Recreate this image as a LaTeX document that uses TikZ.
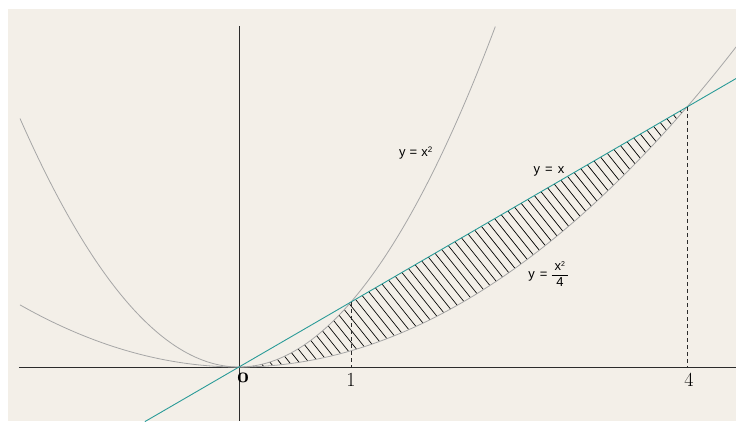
\documentclass[tikz,border=0pt]{standalone}
\usepackage{amsmath}
\usepackage{fontspec}
\setsansfont{Liberation Sans}
\usetikzlibrary{calc}
\definecolor{paper}{HTML}{F3EFE8}
\definecolor{tealline}{HTML}{2A9B98}
\definecolor{curvegray}{HTML}{A6A6A6}
\definecolor{axisgray}{HTML}{2B2B2B}

\begin{document}
\begin{tikzpicture}[
    x=112pt, y=65pt,
    axisline/.style={draw=axisgray, line width=0.9pt},
    curve/.style={draw=curvegray, line width=0.8pt, smooth},
    diag/.style={draw=tealline, line width=0.9pt},
    hatchline/.style={draw=black, line width=0.7pt},
    dropline/.style={draw=axisgray, line width=0.8pt, dash pattern=on 4pt off 3pt},
    lbl/.style={font=\sffamily\fontsize{13}{15}\selectfont, text=black, inner sep=1pt},
    tick/.style={font=\fontsize{20}{22}\selectfont, inner sep=0pt, anchor=north}
  ]
  % page and paper
  \useasboundingbox (-239pt,-54pt) rectangle (497pt,367pt);
  \fill[white] (-239pt,-54pt) rectangle (497pt,367pt);
  \fill[paper] (-231pt,-54pt) rectangle (497pt,358pt);

  % points used by the drops
  \coordinate (p1) at (1,1);
  \coordinate (p4) at (4,4);
  \coordinate (a1) at (1,0);
  \coordinate (a4) at (4,0);

  % hatched region
  \begin{scope}
    \clip plot[domain=0:1, samples=40] (\x,{\x*\x}) -- (p4)
      -- plot[domain=4:0, samples=80] (\x,{\x*\x/4}) -- cycle;
    \foreach \s in {0,...,72}
      \draw[hatchline] ({\s*9.7pt-4pt},0pt) -- ++(-300pt,375pt);
  \end{scope}

  % axes
  \draw[axisline] (-220pt,0) -- (497pt,0);
  \draw[axisline] (0,341pt) -- (0,-54pt);

  % curves
  \draw[curve] plot[domain=-1.955:2.29, samples=120] (\x,{\x*\x});
  \begin{scope}
    \clip (-239pt,-54pt) rectangle (497pt,358pt);
    \draw[curve] plot[domain=-1.955:4.44, samples=150] (\x,{\x*\x/4});
    \draw[diag] (-0.84,-0.84) -- (4.44,4.44);
  \end{scope}

  % drops
  \draw[dropline] (p1) -- (a1);
  \draw[dropline] (p4) -- (a4);

  % labels
  \node[lbl] (lsq) at (177pt,214pt) {y\hspace{4pt}=\hspace{4pt}x\textsuperscript{\footnotesize 2}};
  \node[lbl] (lid) at (310pt,196pt) {y\hspace{5pt}=\hspace{5pt}x};
  \node[lbl] (lqu) at (310pt,93pt) {y\hspace{5pt}=\hspace{3pt}$\dfrac{\hspace{3pt}\textsf{x}^{\textsf{\scriptsize 2}}\hspace{3pt}}{\textsf{4}}$};

  \node[tick] (t0) at (4pt,-6pt) {\usefont{OML}{cmm}{b}{it}0};
  \node[tick] (t1) at (112pt,-6pt) {1};
  \node[tick] (t4) at (450pt,-6pt) {4};
\end{tikzpicture}
\end{document}
